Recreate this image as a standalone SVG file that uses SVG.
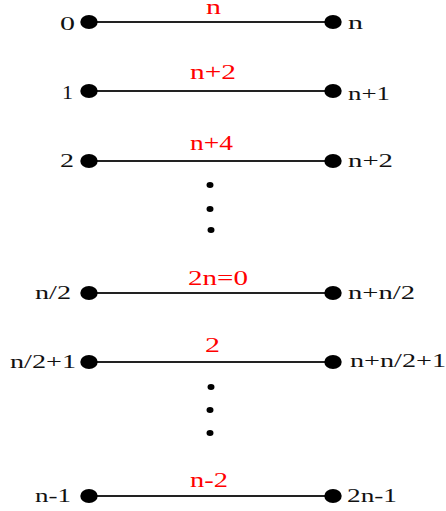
<svg xmlns="http://www.w3.org/2000/svg" width="446" height="511" viewBox="0 0 446 511">
<style>
.edge{stroke:#222;stroke-width:2}
.dot{fill:#000}
.lbl{font-family:"Liberation Serif","Times New Roman",serif;font-size:19px;fill:#111}
.w{font-family:"Liberation Serif","Times New Roman",serif;font-size:20px;fill:#ff0000}
</style>
<rect width="446" height="511" fill="#fff"/>
<g id="connectors">
<line class="edge" x1="89" y1="22" x2="333" y2="22"/>
<line class="edge" x1="89" y1="91" x2="333" y2="91"/>
<line class="edge" x1="89" y1="161" x2="333" y2="161"/>
<line class="edge" x1="89" y1="293" x2="333" y2="293"/>
<line class="edge" x1="89" y1="362" x2="333" y2="362"/>
<line class="edge" x1="89" y1="496" x2="333" y2="496"/>
<text class="w" x="206" y="14" textLength="15" lengthAdjust="spacingAndGlyphs">n</text>
<text class="w" x="190" y="79" textLength="46" lengthAdjust="spacingAndGlyphs">n+2</text>
<text class="w" x="190" y="150" textLength="43" lengthAdjust="spacingAndGlyphs">n+4</text>
<text class="w" x="188" y="285" textLength="60" lengthAdjust="spacingAndGlyphs">2n=0</text>
<text class="w" x="205" y="352" textLength="15" lengthAdjust="spacingAndGlyphs">2</text>
<text class="w" x="190" y="487" textLength="38" lengthAdjust="spacingAndGlyphs">n-2</text>
</g>
<g id="row0">
<ellipse class="dot" cx="89" cy="22" rx="8.7" ry="7"/>
<ellipse class="dot" cx="333" cy="22" rx="8.7" ry="7"/>
<text class="lbl" x="60" y="30" textLength="15" lengthAdjust="spacingAndGlyphs">0</text>
<text class="lbl" x="348" y="29" textLength="15" lengthAdjust="spacingAndGlyphs">n</text>
</g>
<g id="row1">
<ellipse class="dot" cx="89" cy="91" rx="8.7" ry="7"/>
<ellipse class="dot" cx="333" cy="91" rx="8.7" ry="7"/>
<text class="lbl" x="62" y="99" textLength="11" lengthAdjust="spacingAndGlyphs">1</text>
<text class="lbl" x="348" y="100" textLength="42" lengthAdjust="spacingAndGlyphs">n+1</text>
</g>
<g id="row2">
<ellipse class="dot" cx="89" cy="161" rx="8.7" ry="7"/>
<ellipse class="dot" cx="333" cy="161" rx="8.7" ry="7"/>
<text class="lbl" x="60" y="167" textLength="14" lengthAdjust="spacingAndGlyphs">2</text>
<text class="lbl" x="348" y="167" textLength="45" lengthAdjust="spacingAndGlyphs">n+2</text>
</g>
<g id="ellipsis1">
<ellipse class="dot" cx="210" cy="185" rx="3.5" ry="3"/>
<ellipse class="dot" cx="210" cy="209" rx="3.5" ry="3"/>
<ellipse class="dot" cx="211" cy="230" rx="3.5" ry="3"/>
</g>
<g id="rowHalf">
<ellipse class="dot" cx="89" cy="293" rx="8.7" ry="7"/>
<ellipse class="dot" cx="333" cy="293" rx="8.7" ry="7"/>
<text class="lbl" x="35" y="299" textLength="36" lengthAdjust="spacingAndGlyphs">n/2</text>
<text class="lbl" x="348" y="299" textLength="67" lengthAdjust="spacingAndGlyphs">n+n/2</text>
</g>
<g id="rowHalf1">
<ellipse class="dot" cx="89" cy="362" rx="8.7" ry="7"/>
<ellipse class="dot" cx="333" cy="362" rx="8.7" ry="7"/>
<text class="lbl" x="10" y="368" textLength="66" lengthAdjust="spacingAndGlyphs">n/2+1</text>
<text class="lbl" x="350" y="367" textLength="96" lengthAdjust="spacingAndGlyphs">n+n/2+1</text>
</g>
<g id="ellipsis2">
<ellipse class="dot" cx="211" cy="387" rx="3.5" ry="3"/>
<ellipse class="dot" cx="210" cy="410" rx="3.5" ry="3"/>
<ellipse class="dot" cx="210" cy="433" rx="3.5" ry="3"/>
</g>
<g id="rowLast">
<ellipse class="dot" cx="89" cy="496" rx="8.7" ry="7"/>
<ellipse class="dot" cx="333" cy="496" rx="8.7" ry="7"/>
<text class="lbl" x="35" y="502" textLength="36" lengthAdjust="spacingAndGlyphs">n-1</text>
<text class="lbl" x="347" y="502" textLength="50" lengthAdjust="spacingAndGlyphs">2n-1</text>
</g>
</svg>
